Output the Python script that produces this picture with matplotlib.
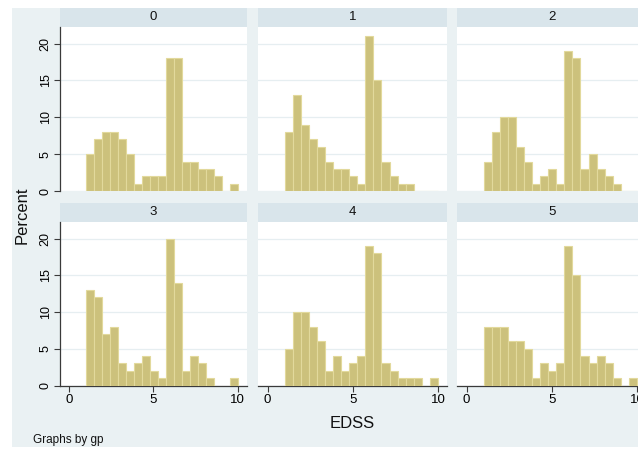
import numpy as np
import matplotlib
matplotlib.use("Agg")
import matplotlib.pyplot as plt
from matplotlib.patches import Rectangle

plt.rcParams['font.family'] = ['Liberation Sans Narrow', 'Liberation Sans', 'DejaVu Sans']

# ---- data (percent per bin, EDSS from 1 to 10 in 19 bins) ----
groups = ["0", "1", "2", "3", "4", "5"]
bin_min = 1.0
bin_max = 10.0
n_bins = 19
pct_g0 = [5, 7, 8, 8, 7, 5, 1, 2, 2, 2, 18, 18, 4, 4, 3, 3, 2, 0, 1]
pct_g1 = [8, 13, 9, 7, 6, 4, 3, 3, 2, 1, 21, 15, 4, 2, 1, 1, 0, 0, 0]
pct_g2 = [4, 8, 10, 10, 6, 4, 1, 2, 3, 1, 19, 18, 3, 5, 3, 2, 1, 0, 0]
pct_g3 = [13, 12, 7, 8, 3, 2, 3, 4, 2, 1, 20, 14, 2, 4, 3, 1, 0, 0, 1]
pct_g4 = [5, 10, 10, 8, 6, 2, 4, 2, 3, 4, 19, 18, 3, 2, 1, 1, 1, 0, 1]
pct_g5 = [8, 8, 8, 6, 6, 5, 1, 3, 2, 3, 19, 15, 4, 3, 4, 3, 1, 0, 1]
all_pct = [pct_g0, pct_g1, pct_g2, pct_g3, pct_g4, pct_g5]
x_ticks = [0, 5, 10]
y_ticks = [0, 5, 10, 15, 20]

W, H = 638, 451
fig = plt.figure(figsize=(W / 100, H / 100), dpi=100)
fig.patch.set_facecolor('white')

BG = '#EAF1F3'
HEAD = '#D9E5EB'
BAR = '#CCC17C'
BAR_EDGE = '#E2D99C'
GRID = '#E6EEF1'
AX = '#3A3A3A'

fig.add_artist(Rectangle((12 / W, 1 - 447 / H), (W - 12) / W, (447 - 8) / H,
                         transform=fig.transFigure, facecolor=BG, edgecolor='none', zorder=0))

def rect(x0, x1, y0, y1):
    return [x0 / W, 1 - y1 / H, (x1 - x0) / W, (y1 - y0) / H]

cols = [(60, 247), (258.3, 447.3), (457.3, 646.3)]
rows = [(8, 27, 191), (202.7, 222, 385.5)]

edges = np.linspace(bin_min, bin_max, n_bins + 1)
width = edges[1] - edges[0]

for i, g in enumerate(groups):
    r, c = divmod(i, 3)
    x0, x1 = cols[c]
    hy0, hy1, py1 = rows[r]
    # header strip
    hax = fig.add_axes(rect(x0, x1, hy0, hy1))
    hax.set_facecolor(HEAD)
    hax.set_xticks([]); hax.set_yticks([])
    for s in hax.spines.values():
        s.set_visible(False)
    hax.text(0.5, 0.5, g, ha='center', va='center', fontsize=9.5, color='#111111',
             transform=hax.transAxes)
    # plot region
    ax = fig.add_axes(rect(x0, x1, hy1, py1))
    ax.set_facecolor('white')
    ax.bar(edges[:-1], all_pct[i], width=width, align='edge', color=BAR,
           edgecolor=BAR_EDGE, linewidth=0.8, zorder=3)
    ax.set_xlim(-0.55, 10.55)
    ax.set_ylim(0, 22.25)
    ax.set_yticks(y_ticks)
    ax.set_xticks(x_ticks)
    ax.grid(axis='y', color=GRID, linewidth=0.9, zorder=0)
    ax.set_axisbelow(True)
    for s in ['top', 'right']:
        ax.spines[s].set_visible(False)
    ax.spines['left'].set_visible(c == 0)
    ax.spines['bottom'].set_visible(r == 1)
    for s in ['left', 'bottom']:
        ax.spines[s].set_color(AX)
        ax.spines[s].set_linewidth(0.9)
    ax.tick_params(axis='y', left=(c == 0), labelleft=(c == 0), length=4,
                   color=AX, labelsize=9, labelrotation=90, pad=2)
    for lab in ax.get_yticklabels():
        lab.set_va('center')
    ax.tick_params(axis='x', bottom=(r == 1), labelbottom=(r == 1), length=4,
                   color=AX, labelsize=9.5, pad=2)

fig.text(22 / W, 1 - 215 / H, 'Percent', rotation=90, ha='center', va='center',
         fontsize=12, color='#111111')
fig.text(352 / W, 1 - 424 / H, 'EDSS', ha='center', va='center', fontsize=12,
         color='#111111')
fig.text(33 / W, 1 - 440 / H, 'Graphs by gp', ha='left', va='center', fontsize=8.5,
         color='#111111')

fig.savefig('out.png', dpi=100, facecolor=fig.get_facecolor())
